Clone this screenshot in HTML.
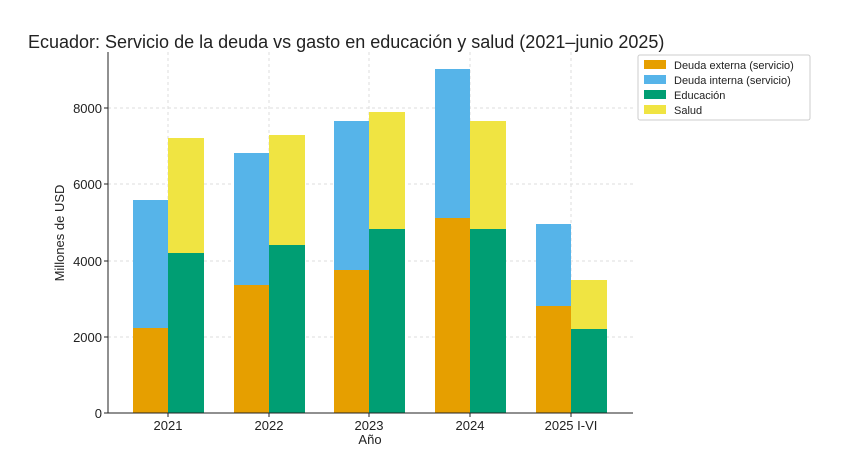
<!DOCTYPE html>
<html><head><meta charset="utf-8"><style>
body{margin:0;background:#fff;}
svg{font-family:"Liberation Sans","DejaVu Sans",sans-serif;}
</style></head><body>
<svg width="849" height="464" xmlns="http://www.w3.org/2000/svg">
<rect width="849" height="464" fill="#fff"/>
<text x="28" y="48" font-size="18" fill="#222">Ecuador: Servicio de la deuda vs gasto en educación y salud (2021–junio 2025)</text>
<g stroke="#ddd" stroke-dasharray="3,3" stroke-width="1">
<line x1="108" x2="633" y1="337" y2="337"/><line x1="108" x2="633" y1="261" y2="261"/>
<line x1="108" x2="633" y1="184" y2="184"/><line x1="108" x2="633" y1="108" y2="108"/>
<line x1="168" x2="168" y1="52" y2="413"/><line x1="269" x2="269" y1="52" y2="413"/>
<line x1="369" x2="369" y1="52" y2="413"/><line x1="470" x2="470" y1="52" y2="413"/>
<line x1="571" x2="571" y1="52" y2="413"/>
</g>
<!-- bars -->
<g>
<rect x="133" y="328" width="35" height="85" fill="#E69F00"/><rect x="133" y="200" width="35" height="128" fill="#56B4E9"/>
<rect x="168" y="253" width="36" height="160" fill="#009E73"/><rect x="168" y="138" width="36" height="115" fill="#F0E442"/>
<rect x="234" y="285" width="35" height="128" fill="#E69F00"/><rect x="234" y="153" width="35" height="132" fill="#56B4E9"/>
<rect x="269" y="245" width="36" height="168" fill="#009E73"/><rect x="269" y="135" width="36" height="110" fill="#F0E442"/>
<rect x="334" y="270" width="35" height="143" fill="#E69F00"/><rect x="334" y="121" width="35" height="149" fill="#56B4E9"/>
<rect x="369" y="229" width="36" height="184" fill="#009E73"/><rect x="369" y="112" width="36" height="117" fill="#F0E442"/>
<rect x="435" y="218" width="35" height="195" fill="#E69F00"/><rect x="435" y="69" width="35" height="149" fill="#56B4E9"/>
<rect x="470" y="229" width="36" height="184" fill="#009E73"/><rect x="470" y="121" width="36" height="108" fill="#F0E442"/>
<rect x="536" y="306" width="35" height="107" fill="#E69F00"/><rect x="536" y="224" width="35" height="82" fill="#56B4E9"/>
<rect x="571" y="329" width="36" height="84" fill="#009E73"/><rect x="571" y="280" width="36" height="49" fill="#F0E442"/>
</g>
<g stroke="#222" stroke-width="1">
<line x1="108" x2="108" y1="52" y2="413"/><line x1="108" x2="633" y1="413" y2="413"/>
<line x1="104" x2="108" y1="413" y2="413"/><line x1="104" x2="108" y1="337" y2="337"/><line x1="104" x2="108" y1="261" y2="261"/><line x1="104" x2="108" y1="184" y2="184"/><line x1="104" x2="108" y1="108" y2="108"/>
<line x1="168" x2="168" y1="413" y2="417"/><line x1="269" x2="269" y1="413" y2="417"/><line x1="369" x2="369" y1="413" y2="417"/><line x1="470" x2="470" y1="413" y2="417"/><line x1="571" x2="571" y1="413" y2="417"/>
</g>
<g font-size="13" fill="#222" text-anchor="end">
<text x="102" y="418">0</text><text x="102" y="342">2000</text><text x="102" y="266">4000</text><text x="102" y="189">6000</text><text x="102" y="113">8000</text>
</g>
<g font-size="13" fill="#222" text-anchor="middle">
<text x="168" y="430">2021</text><text x="269" y="430">2022</text><text x="369" y="430">2023</text><text x="470" y="430">2024</text><text x="571" y="430">2025 I-VI</text>
<text x="370" y="444">Año</text>
<text transform="translate(64,233) rotate(-90)">Millones de USD</text>
</g>
<rect x="638" y="55" width="172" height="65" fill="#fff" stroke="#ccc" rx="2"/>
<g font-size="11" fill="#222">
<rect x="644" y="60" width="22" height="9" fill="#E69F00"/><text x="674" y="69">Deuda externa (servicio)</text>
<rect x="644" y="75" width="22" height="9" fill="#56B4E9"/><text x="674" y="84">Deuda interna (servicio)</text>
<rect x="644" y="90" width="22" height="9" fill="#009E73"/><text x="674" y="99">Educación</text>
<rect x="644" y="105" width="22" height="9" fill="#F0E442"/><text x="674" y="114">Salud</text>
</g>
</svg>
</body></html>
